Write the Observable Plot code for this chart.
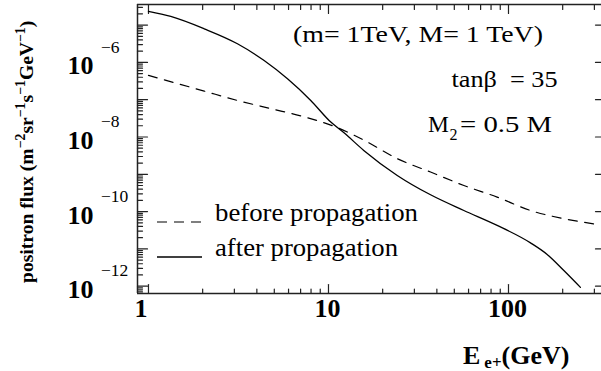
<!DOCTYPE html>
<html><head><meta charset="utf-8">
<script src="https://cdn.jsdelivr.net/npm/d3@7"></script>
<script src="https://cdn.jsdelivr.net/npm/@observablehq/plot@0.6"></script>
<style>
html,body{margin:0;padding:0;background:#fff;}
#chart svg{display:block;}
</style></head><body><div id="chart"></div>
<script>
// positron energy (GeV) and flux (m^-2 sr^-1 s^-1 GeV^-1)
const energyAfter = [1.0, 1.33, 2.04, 3.12, 4.39, 5.92, 7.97, 10.3, 12.2, 15.7, 24.1, 36.9, 56.5, 86.5, 132.5, 164, 203, 251];
const fluxAfter = [2.34e-5, 1.70e-5, 7.94e-6, 3.16e-6, 1.12e-6, 3.63e-7, 9.55e-8, 2.51e-8, 1.29e-8, 4.37e-9, 9.33e-10, 2.82e-10, 1.07e-10, 4.27e-11, 1.45e-11, 7.1e-12, 2.63e-12, 9.3e-13];
const energyBefore = [1.0, 2.04, 3.12, 4.78, 7.33, 11.2, 15.8, 24.1, 36.9, 56.5, 86.5, 132.5, 203, 298];
const fluxBefore = [4.47e-7, 1.70e-7, 9.55e-8, 5.75e-8, 3.47e-8, 1.78e-8, 8.13e-9, 2.63e-9, 1.15e-9, 5.01e-10, 2.45e-10, 1.07e-10, 6.46e-11, 4.68e-11];

const xTickValues = [1, 10, 100];
const xTickLabels = ["1", "10", "100"];
const xMinorTicks = [2, 3, 4, 5, 6, 7, 8, 9, 20, 30, 40, 50, 60, 70, 80, 90, 200, 300];
const yTickValues = [1e-12, 1e-10, 1e-8, 1e-6];
const yTickBase = ["10", "10", "10", "10"];
const yTickExponents = ["\u221212", "\u221210", "\u22128", "\u22126"];
const yMajorTicks = [1e-12, 1e-11, 1e-10, 1e-9, 1e-8, 1e-7, 1e-6, 1e-5];
const yMinorMultipliers = [2, 3, 4, 5, 6, 7, 8, 9];
const xDomain = [0.869, 328.6];
const yDomain = [6.37e-13, 3.565e-5];

const yMinorTicks = [1e-13, ...yMajorTicks].flatMap(d => yMinorMultipliers.map(m => m * d))
  .filter(v => v > yDomain[0] && v < yDomain[1]);

const FONT = "'Liberation Serif', 'Times New Roman', Times, serif";
const INK = "#222";
const tickShape = {draw(ctx, l) { ctx.moveTo(0, 0); ctx.lineTo(0, -l); }};
const tickOpts = {shape: tickShape, anchor: "start", stroke: INK, strokeWidth: 1.2};

const plot = Plot.plot({
  width: 601,
  height: 371,
  marginLeft: 137,
  marginRight: 0,
  marginTop: 4,
  marginBottom: 78,
  style: {background: "#fff", fontFamily: FONT},
  x: {type: "log", domain: xDomain, axis: null},
  y: {type: "log", domain: yDomain, axis: null},
  marks: [
    Plot.ruleX([xDomain[0]], {stroke: INK, strokeWidth: 1.5}),
    Plot.ruleY([yDomain[0], yDomain[1]], {stroke: INK, strokeWidth: 1.5}),
    Plot.vector(xTickValues, {x: d => d, frameAnchor: "bottom", length: 9, rotate: 0, ...tickOpts}),
    Plot.vector(xMinorTicks, {x: d => d, frameAnchor: "bottom", length: 4.5, rotate: 0, ...tickOpts}),
    Plot.vector(xTickValues, {x: d => d, frameAnchor: "top", length: 9, rotate: 180, ...tickOpts}),
    Plot.vector(xMinorTicks, {x: d => d, frameAnchor: "top", length: 5, rotate: 180, ...tickOpts}),
    Plot.vector(yMajorTicks, {y: d => d, frameAnchor: "left", length: 10, rotate: 90, ...tickOpts}),
    Plot.vector(yMinorTicks, {y: d => d, frameAnchor: "left", length: 5, rotate: 90, ...tickOpts}),
    Plot.vector(yMajorTicks, {y: d => d, frameAnchor: "right", length: 6, rotate: -90, ...tickOpts}),
    Plot.line(fluxBefore, {x: energyBefore, y: fluxBefore, curve: "monotone-x", stroke: "#000", strokeWidth: 1.2, strokeDasharray: "9,7.5", clip: true}),
    Plot.line(fluxAfter, {x: energyAfter, y: fluxAfter, curve: "monotone-x", stroke: "#000", strokeWidth: 1.3, clip: true}),
    Plot.text(xTickValues, {filter: (d, i) => i === 0, x: d => d, text: (d, i) => xTickLabels[i], frameAnchor: "bottom", dy: 23.7, dx: -7.5, fontSize: 26, fontWeight: "bold", fontFamily: FONT, fill: "#000"}),
    Plot.text(xTickValues, {filter: (d, i) => i > 0, x: d => d, text: (d, i) => xTickLabels[i], frameAnchor: "bottom", dy: 23.7, dx: -1, fontSize: 26, fontWeight: "bold", fontFamily: FONT, fill: "#000"}),
    Plot.text(yTickValues, {y: d => d, text: (d, i) => yTickBase[i], frameAnchor: "left", textAnchor: "end", dx: -44, dy: 3.7, fontSize: 26, fontWeight: "bold", fontFamily: FONT, fill: "#000"}),
    Plot.text(yTickValues, {y: d => d, text: (d, i) => yTickExponents[i], frameAnchor: "left", textAnchor: "start", dx: -36.5, dy: -15.4, fontSize: 17.5, fontFamily: FONT, fill: "#000"})
  ]
});

document.getElementById("chart").appendChild(plot);

const svg = d3.select(plot);
const g = svg.append("g").attr("font-family", FONT).attr("fill", "#000").attr("text-anchor", "start");

function rich(parent, {x = 0, y = 0, transform = null, size, weight = "normal", width = null, parts}) {
  const t = parent.append("text").attr("x", x).attr("y", y).attr("text-anchor", "start")
    .attr("font-size", size).attr("font-weight", weight).attr("xml:space", "preserve");
  if (transform) t.attr("transform", transform);
  if (width) t.attr("textLength", width).attr("lengthAdjust", "spacingAndGlyphs");
  let cur = 0;
  for (const p of parts) {
    const shift = p.shift || 0;
    const ts = t.append("tspan").attr("dy", shift - cur).attr("font-size", p.size || size).text(p.t);
    if (p.x != null) ts.attr("x", p.x);
    if (p.dx != null) ts.attr("dx", p.dx);
    cur = shift;
  }
  return t;
}

rich(g, {transform: "translate(33,283) rotate(-90)", size: 19.6, weight: "bold", parts: [
  {t: "positron flux (m"},
  {t: "\u22122", shift: -8, size: 13.8},
  {t: "sr", shift: 0},
  {t: "\u22121", shift: -8, size: 13.8},
  {t: "s", shift: 0},
  {t: "\u22121", shift: -8, size: 13.8},
  {t: "GeV", shift: 0},
  {t: "\u22121", shift: -8, size: 13.8},
  {t: ")", shift: 0}
]});

rich(g, {x: 463, y: 364, size: 26, weight: "bold", parts: [
  {t: "E"},
  {t: "e+", shift: 4, size: 17, dx: 4},
  {t: "(GeV)", shift: 0}
]});

rich(g, {x: 293, y: 41.5, size: 23.5, width: 250, parts: [{t: "(m= 1TeV, M= 1 TeV)"}]});
rich(g, {x: 451.5, y: 87.3, size: 23.5, width: 106, parts: [{t: "tan\u03b2\u00a0 = 35"}]});
rich(g, {x: 428, y: 131.7, size: 23.5, parts: [{t: "M"}]});
rich(g, {x: 449.5, y: 140, size: 16, parts: [{t: "2"}]});
rich(g, {x: 460, y: 131.7, size: 23.5, width: 92, parts: [{t: "= 0.5 M"}]});

g.append("line").attr("x1", 157).attr("x2", 202).attr("y1", 222).attr("y2", 222)
  .attr("stroke", "#000").attr("stroke-width", 1.2).attr("stroke-dasharray", "10,7");
g.append("line").attr("x1", 157).attr("x2", 202).attr("y1", 257).attr("y2", 257)
  .attr("stroke", "#000").attr("stroke-width", 1.3);
rich(g, {x: 215, y: 221, size: 25, width: 203, parts: [{t: "before propagation"}]});
rich(g, {x: 215, y: 256, size: 25, width: 183, parts: [{t: "after propagation"}]});
</script>
</body></html>
